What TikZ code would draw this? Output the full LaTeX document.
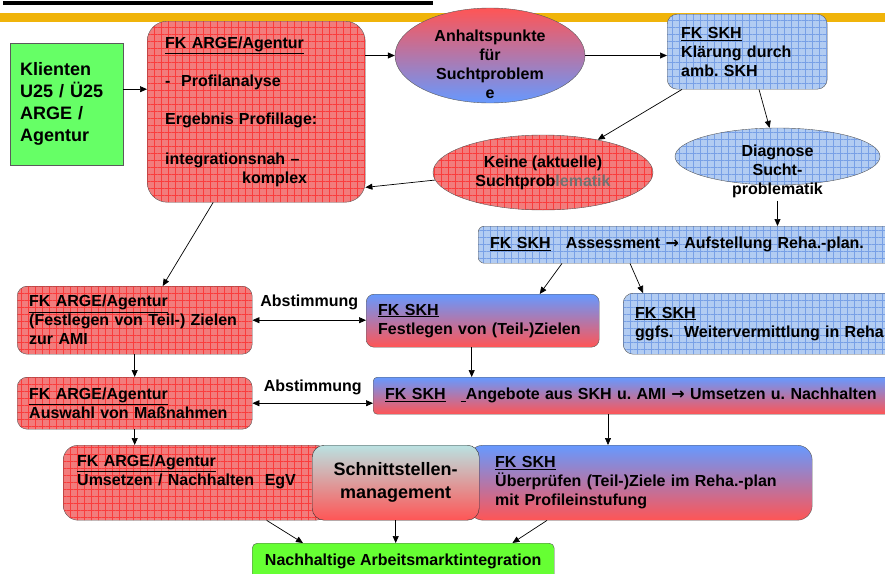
\documentclass[tikz,border=0pt]{standalone}
\usepackage{fontspec}
\setmainfont{Liberation Sans}
\newfontfamily\arrowfont{DejaVu Sans}
\usepackage{tikz}
\usetikzlibrary{positioning,shapes.geometric,arrows.meta,patterns.meta,calc}

\definecolor{rednet}{RGB}{242,124,124}
\definecolor{redline}{RGB}{250,60,60}
\definecolor{bluenet}{RGB}{178,204,242}
\definecolor{blueline}{RGB}{120,160,230}
\definecolor{gradblue}{RGB}{102,153,255}
\definecolor{gradred}{RGB}{255,85,85}
\definecolor{schnitttop}{RGB}{186,226,226}
\definecolor{klientgreen}{RGB}{102,255,102}
\definecolor{zielgreen}{RGB}{102,255,51}
\definecolor{goldband}{RGB}{240,180,10}
\definecolor{boxframe}{RGB}{90,90,90}
\newcommand{\rarr}{{\arrowfont\bfseries →}}
\frenchspacing

\begin{document}
\begin{tikzpicture}[x=1pt,y=-1pt,font=\fontsize{16}{19}\selectfont\bfseries]
  \tikzset{argebox/.style={draw=boxframe, rounded corners=10pt, preaction={fill=rednet},
      preaction={pattern={Lines[angle=0,distance=7pt,line width=0.8pt]}, pattern color=redline},
      preaction={pattern={Lines[angle=90,distance=7pt,line width=0.8pt]}, pattern color=redline},
      align=left, inner ysep=3pt}}
  \tikzset{skhbox/.style={draw=boxframe, rounded corners=10pt, preaction={fill=bluenet},
      preaction={pattern={Lines[angle=0,distance=7pt,line width=0.8pt]}, pattern color=blueline},
      preaction={pattern={Lines[angle=90,distance=7pt,line width=0.8pt]}, pattern color=blueline},
      align=left, inner ysep=3pt}}
  \tikzset{skhgrad/.style={draw=boxframe, rounded corners=8pt, top color=gradblue, bottom color=gradred,
      align=left, inner ysep=3pt}}
  \tikzset{line/.style={draw, line width=0.7pt, -{Triangle[length=7pt,width=6pt]}}}
  \tikzset{twoway/.style={draw, line width=0.7pt, {Triangle[length=7pt,width=6pt]}-{Triangle[length=7pt,width=6pt]}}}

  \useasboundingbox (0,0) rectangle (885,573);
  \clip (0,0) rectangle (885,573);

  % header remains
  \fill (3,1) rectangle (433,5);
  \fill[goldband] (0,13) rectangle (885,22);

  % first row
  \node [draw=boxframe, fill=klientgreen, anchor=north west, minimum width=113pt, minimum height=122pt,
         text width=93pt, inner xsep=10pt, align=left, font=\fontsize{18}{22}\selectfont\bfseries]
         (klient) at (10,43) {Klienten\\U25 / Ü25\\ARGE /\\Agentur};
  \node [argebox, rounded corners=20pt, anchor=north west, minimum width=218pt, minimum height=181pt,
         text width=182pt, inner xsep=18pt] (argeprofil) at (147,21)
         {\underline{FK ARGE/Agentur}\\[19pt] -~~Profilanalyse\\[19pt] Ergebnis Profillage:\\[21pt]
          integrationsnah –\\ \hspace*{77pt}komplex};
  \node [ellipse, draw=boxframe, top color=gradred, bottom color=gradblue, minimum width=190pt,
         minimum height=95pt, inner sep=0pt] (anhalt) at (490,55.5) {};
  \node [align=center] (anhalttext) at ([yshift=-9pt]anhalt.center) {Anhaltspunkte\\für\\Suchtproblem\\e};
  \node [skhbox, anchor=north west, minimum width=160pt, minimum height=75pt, text width=132pt,
         inner xsep=14pt] (klaer) at (667,14) {\underline{FK SKH}\\Klärung durch\\amb. SKH};

  % ellipses
  \node [argebox, ellipse, minimum width=220pt, minimum height=75pt, inner sep=0pt, align=center]
         (keine) at (543,172.5) {Keine (aktuelle)\\Suchtprob\textcolor{black!55}{lematik}};
  \node [skhbox, ellipse, minimum width=205pt, minimum height=57pt, inner sep=0pt] (diagnose) at (777.5,156.5) {};
  \node [align=center] (diagnosetext) at ([yshift=-14.5pt]diagnose.center) {Diagnose\\Sucht-\\problematik};

  % assessment
  \node [skhbox, rounded corners=6pt, anchor=north west, minimum width=420pt, minimum height=37pt,
         text width=396pt, inner xsep=12pt] (assess) at (478,226)
         {\underline{FK SKH}\hspace{10pt} Assessment \rarr{} Aufstellung Reha.-plan.};

  % goals
  \node [argebox, anchor=north west, minimum width=235pt, minimum height=68pt, text width=211pt,
         inner xsep=12pt] (arge2) at (17,286)
         {\underline{FK ARGE/Agentur}\\(Festlegen von Teil-) Zielen\\zur AMI};
  \node [skhgrad, anchor=north west, minimum width=233pt, minimum height=53pt, text width=209pt,
         inner xsep=12pt] (festlegen) at (366,294) {\underline{FK SKH}\\Festlegen von (Teil-)Zielen};
  \node [skhbox, anchor=north west, minimum width=280pt, minimum height=61pt, text width=256pt,
         inner xsep=12pt] (weiter) at (623,293) {\underline{FK SKH}\\ggfs.~ Weitervermittlung in Reha};

  % measures
  \node [argebox, anchor=north west, minimum width=235pt, minimum height=52pt, text width=211pt,
         inner xsep=12pt] (arge3) at (17,377) {\underline{FK ARGE/Agentur}\\Auswahl von Maßnahmen};
  \node [skhgrad, rounded corners=4pt, anchor=north west, minimum width=530pt, minimum height=37pt,
         text width=506pt, inner xsep=12pt] (angebote) at (373,377)
         {\underline{FK SKH}\hspace{15pt}\underline{\ }Angebote aus SKH u. AMI \rarr{} Umsetzen u. Nachhalten};

  % follow-up
  \node [argebox, rounded corners=15pt, anchor=north west, minimum width=267pt, minimum height=75pt,
         text width=239pt, inner xsep=14pt] (arge4) at (63,445)
         {\underline{FK ARGE/Agentur}\\Umsetzen / Nachhalten~ EgV\\ \strut};
  \node [skhgrad, rounded corners=15pt, anchor=north west, minimum width=344pt, minimum height=75pt,
         text width=290pt, inner xsep=27pt] (pruefen) at (468,445)
         {\underline{FK SKH}\\Überprüfen (Teil-)Ziele im Reha.-plan\\mit Profileinstufung};
  \node [draw=black!80, rounded corners=12pt, top color=schnitttop, bottom color=gradred, anchor=north west,
         minimum width=167pt, minimum height=75pt, align=center, font=\fontsize{18}{23}\selectfont\bfseries]
         (schnitt) at (312,445) {Schnittstellen-\\management};
  \node [draw=boxframe, fill=zielgreen, rounded corners=5pt, anchor=north west, minimum width=302pt,
         minimum height=36pt] (nachhaltig) at (252,543) {Nachhaltige Arbeitsmarktintegration};

  % connectors
  \path [line] ($(klient.east)+(0,-15)$) -- ($(klient.east -| argeprofil.west)+(0,-15)$);
  \path [line] (anhalt.west -| argeprofil.east) -- (anhalt.west);
  \path [line] (anhalt.east) -- (anhalt.east -| klaer.west);
  \path [line] ($(klaer.south west)+(15,0)$) -- (keine);
  \path [line] ($(klaer.south west)+(92,0)$) -- (diagnose);
  \path [line] (keine.184) -- ($(argeprofil.south east)+(0,-15)$);
  \path [line] ($(argeprofil.south)+(-43,0)$) -- ($(arge2.north)+(28,0)$);
  \path [line] (diagnosetext.south) -- (diagnosetext.south |- assess.north);
  \path [line] ($(assess.south west)+(84,0)$) -- ($(festlegen.north)+(57,0)$);
  \path [line] ($(assess.south west)+(152,0)$) -- ($(weiter.north west)+(20,0)$);
  \path [twoway] (arge2.east) -- (arge2.east -| festlegen.west) node [midway, above=7pt] (abst1) {Abstimmung};
  \path [line] (arge2.south) -- (arge3.north);
  \path [line] ($(festlegen.south)+(-11,0)$) -- ($(festlegen.south |- angebote.north)+(-11,0)$);
  \path [twoway] (arge3.east) -- (arge3.east -| angebote.west) node [midway, above=5pt] (abst2) {Abstimmung};
  \path [line] (arge3.south) -- (arge3.south |- arge4.north);
  \path [line] ($(angebote.south west)+(235,0)$) -- ($(angebote.south west |- pruefen.north)+(235,0)$);
  \path [line] ($(arge4.south)+(70,0)$) -- ($(nachhaltig.north west)+(51,0)$);
  \path [line] (schnitt.south) -- (schnitt.south |- nachhaltig.north);
  \path [line] ($(pruefen.south west)+(79,0)$) -- ($(nachhaltig.north east)+(-42,0)$);
\end{tikzpicture}
\end{document}
